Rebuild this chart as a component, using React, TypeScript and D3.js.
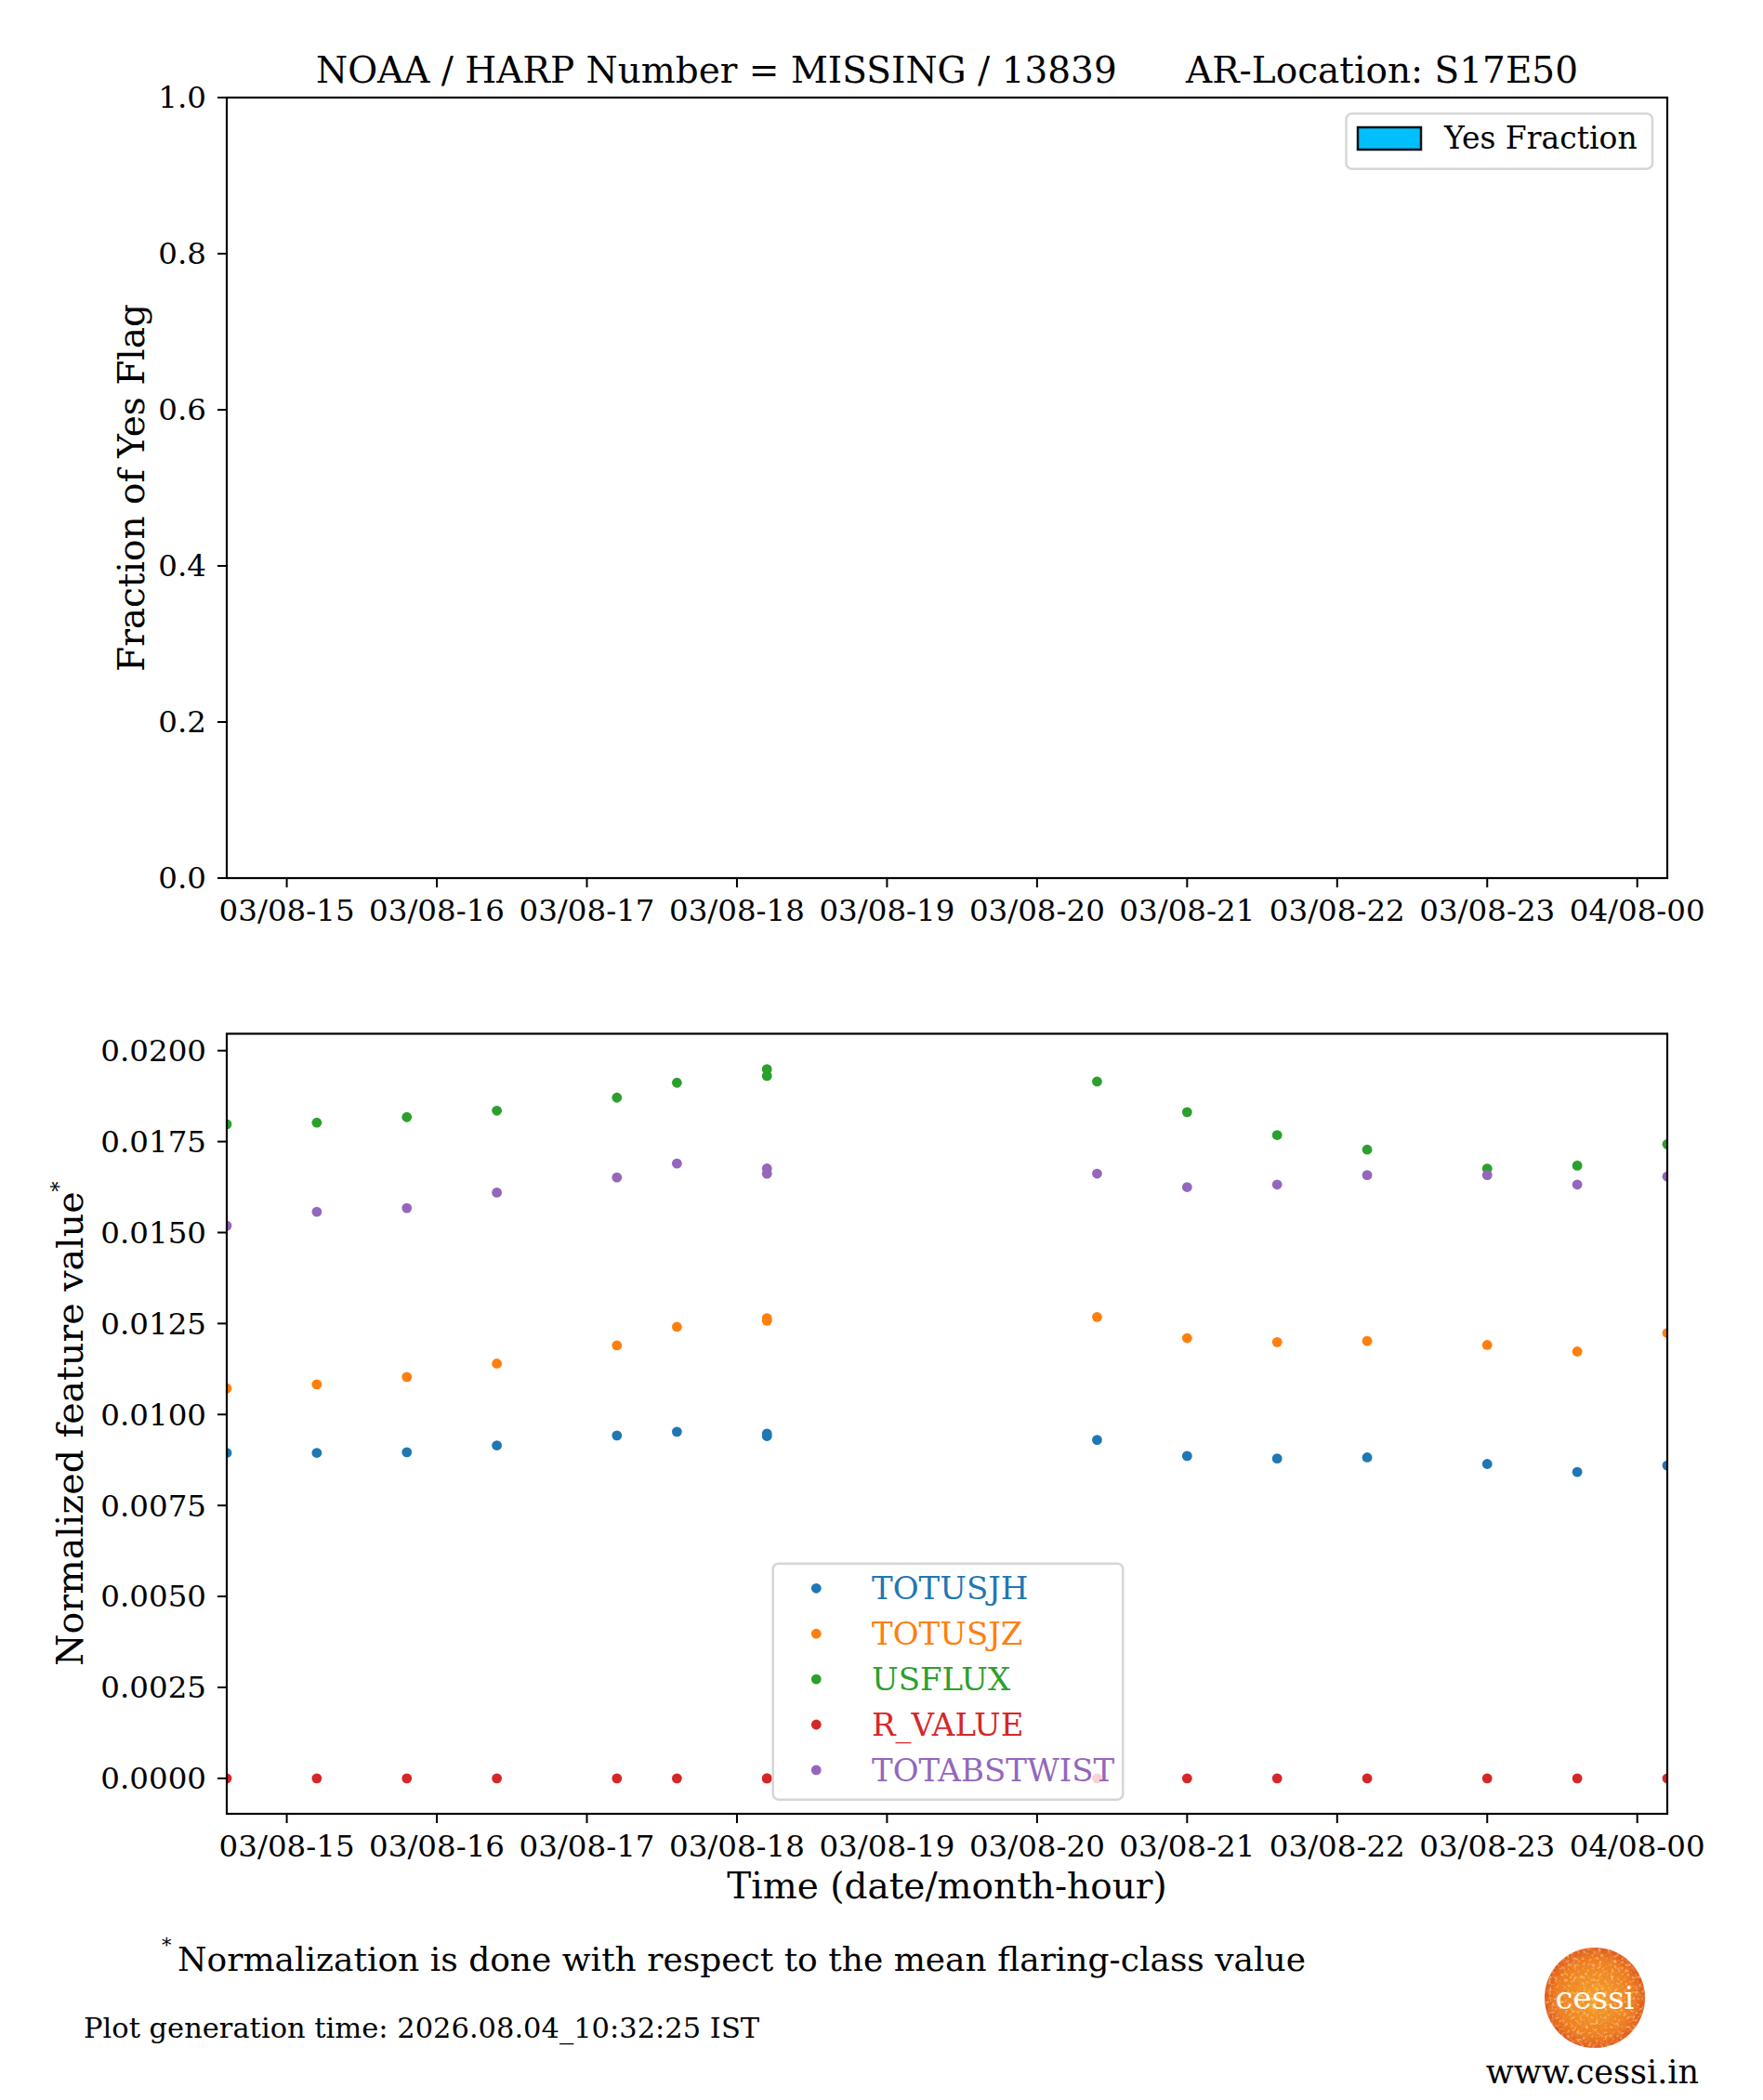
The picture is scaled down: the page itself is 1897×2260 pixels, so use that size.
import * as d3 from "d3";

const times = [
  "2024-08-03T14:36", "2024-08-03T15:12", "2024-08-03T15:48", "2024-08-03T16:24",
  "2024-08-03T17:12", "2024-08-03T17:36", "2024-08-03T18:12", "2024-08-03T18:12",
  "2024-08-03T20:24", "2024-08-03T21:00", "2024-08-03T21:36", "2024-08-03T22:12",
  "2024-08-03T23:00", "2024-08-03T23:36", "2024-08-04T00:12",
];

const seriesNames = ["TOTUSJH", "TOTUSJZ", "USFLUX", "R_VALUE", "TOTABSTWIST"];
const seriesColors = ["#1f77b4", "#ff7f0e", "#2ca02c", "#d62728", "#9467bd"];

const totusjh = [0.008946, 0.008946, 0.008963, 0.00915, 0.009423, 0.009526, 0.009474, 0.009406, 0.0093, 0.00886, 0.00879, 0.00882, 0.00864, 0.00842, 0.0086];
const totusjz = [0.010715, 0.010826, 0.01103, 0.0114, 0.011898, 0.012408, 0.012645, 0.012577, 0.01268, 0.0121, 0.01199, 0.01202, 0.01191, 0.01173, 0.01224];
const usflux = [0.017977, 0.01802, 0.018173, 0.01835, 0.018709, 0.019117, 0.01949, 0.019304, 0.01915, 0.01831, 0.01768, 0.01728, 0.01676, 0.01684, 0.01743];
const rValue = [0, 0, 0, 0, 0, 0, 0, 0, 0, 0, 0, 0, 0, 0, 0];
const totabstwist = [0.015189, 0.015571, 0.015673, 0.0161, 0.016515, 0.016898, 0.016761, 0.016617, 0.01662, 0.01625, 0.01632, 0.01658, 0.01658, 0.01632, 0.01654];

const seriesValues = [totusjh, totusjz, usflux, rValue, totabstwist];

const topTicks = [0, 0.2, 0.4, 0.6, 0.8, 1.0];
const bottomTicks = [0, 0.0025, 0.005, 0.0075, 0.01, 0.0125, 0.015, 0.0175, 0.02];

const titleText = "NOAA / HARP Number = MISSING / 13839      AR-Location: S17E50";
const footnote = "Normalization is done with respect to the mean flaring-class value";
const genTime = "Plot generation time: 2026.08.04_10:32:25 IST";

const W = 1897;
const H = 2260;
const FONT = "DejaVu Serif, serif";
const left = 244;
const right = 1794;
const topPanel = { top: 105, bottom: 945 };
const botPanel = { top: 1112.5, bottom: 1952 };

const parse = d3.utcParse("%Y-%m-%dT%H:%M");
const dates = times.map(t => parse(t) as Date);

const x = d3.scaleUtc()
  .domain(d3.extent(dates) as [Date, Date])
  .range([left, right]);

const yTop = d3.scaleLinear().domain([0, 1]).range([topPanel.bottom, topPanel.top]);

const allVals = seriesValues.flat();
const vMin = d3.min(allVals) as number;
const vMax = d3.max(allVals) as number;
const pad = (vMax - vMin) * 0.05;
const yBot = d3.scaleLinear()
  .domain([vMin - pad, vMax + pad])
  .range([botPanel.bottom, botPanel.top]);

const xTicks = x.ticks(d3.utcHour.every(1) as any);
const fmtX = d3.utcFormat("%d/%m-%H");

function XAxis({ y0 }: { y0: number }) {
  return (
    <g>
      {xTicks.map((t, i) => (
        <g key={i}>
          <line x1={x(t)} x2={x(t)} y1={y0} y2={y0 + 10} stroke="#000" strokeWidth={2} />
          <text x={x(t)} y={y0 + 46} textAnchor="middle" fontSize={32.5}>{fmtX(t)}</text>
        </g>
      ))}
    </g>
  );
}

function YAxis({ scale, ticks, fmt }: { scale: any; ticks: number[]; fmt: (v: number) => string }) {
  return (
    <g>
      {ticks.map((t, i) => (
        <g key={i}>
          <line x1={left - 10} x2={left} y1={scale(t)} y2={scale(t)} stroke="#000" strokeWidth={2} />
          <text x={left - 22} y={scale(t)} dy="0.35em" textAnchor="end" fontSize={32.5}>{fmt(t)}</text>
        </g>
      ))}
    </g>
  );
}

export default function App() {
  const legendRows = seriesNames.map((n, i) => ({ name: n, color: seriesColors[i] }));
  return (
    <div>
      <style>{`body{margin:0}`}</style>
      <svg width={W} height={H} fontFamily={FONT} style={{ display: "block", background: "#fff" }}>
        <defs>
          <clipPath id="clipBot">
            <rect x={left} y={botPanel.top} width={right - left} height={botPanel.bottom - botPanel.top} />
          </clipPath>
          <radialGradient id="sun" cx="50%" cy="50%" r="55%">
            <stop offset="0%" stopColor="#f7a92a" />
            <stop offset="70%" stopColor="#ee7d1c" />
            <stop offset="100%" stopColor="#d8481a" />
          </radialGradient>
          <filter id="sunTex">
            <feTurbulence type="fractalNoise" baseFrequency="0.22" numOctaves={3} seed={7} result="n" />
            <feColorMatrix in="n" type="matrix" values="0 0 0 0 0.85  0 0 0 0 0.22  0 0 0 0 0.05  0 0 0 1.8 -0.75" result="c" />
            <feComposite in="c" in2="SourceGraphic" operator="in" result="t" />
            <feTurbulence type="fractalNoise" baseFrequency="0.3" numOctaves={2} seed={2} result="n2" />
            <feColorMatrix in="n2" type="matrix" values="0 0 0 0 1  0 0 0 0 0.85  0 0 0 0 0.3  0 0 0 1.6 -0.85" result="c2" />
            <feComposite in="c2" in2="SourceGraphic" operator="in" result="t2" />
            <feMerge>
              <feMergeNode in="SourceGraphic" />
              <feMergeNode in="t" />
              <feMergeNode in="t2" />
            </feMerge>
          </filter>
        </defs>

        <rect x={0} y={0} width={W} height={H} fill="#fff" />

        {/* title */}
        <text x={(left + right) / 2} y={89} textAnchor="middle" fontSize={39} style={{ whiteSpace: "pre" }}>{titleText}</text>

        {/* top panel */}
        <rect x={left} y={topPanel.top} width={right - left} height={topPanel.bottom - topPanel.top} fill="none" stroke="#000" strokeWidth={2.2} />
        <YAxis scale={yTop} ticks={topTicks} fmt={d3.format(".1f")} />
        <XAxis y0={topPanel.bottom} />
        <text transform={`translate(155,${(topPanel.top + topPanel.bottom) / 2}) rotate(-90)`} textAnchor="middle" fontSize={39}>Fraction of Yes Flag</text>
        <g>
          <rect x={1448.5} y={122.3} width={329.5} height={59.4} rx={6} fill="#fff" fillOpacity={0.8} stroke="#d6d6d6" strokeWidth={2.5} />
          <rect x={1461} y={137} width={68} height={24} fill="#00bfff" stroke="#111" strokeWidth={2.5} />
          <text x={1554} y={160} fontSize={33}>Yes Fraction</text>
        </g>

        {/* bottom panel */}
        <g clipPath="url(#clipBot)">
          {seriesValues.map((vals, si) => (
            <g key={si} fill={seriesColors[si]}>
              {vals.map((v, i) => (
                <circle key={i} cx={x(dates[i])} cy={yBot(v)} r={5.4} />
              ))}
            </g>
          ))}
        </g>
        <rect x={left} y={botPanel.top} width={right - left} height={botPanel.bottom - botPanel.top} fill="none" stroke="#000" strokeWidth={2.2} />
        <YAxis scale={yBot} ticks={bottomTicks} fmt={d3.format(".4f")} />
        <XAxis y0={botPanel.bottom} />
        <text transform={`translate(89,${(botPanel.top + botPanel.bottom) / 2}) rotate(-90)`} textAnchor="middle" fontSize={39.5}>
          Normalized feature value<tspan fontSize={22} dy={-18}>*</tspan>
        </text>
        <text x={(left + right) / 2} y={2043} textAnchor="middle" fontSize={39}>Time (date/month-hour)</text>

        <g>
          <rect x={831.7} y={1682.7} width={376.6} height={254} rx={6} fill="#fff" fillOpacity={0.8} stroke="#d6d6d6" strokeWidth={2.5} />
          {legendRows.map((r, i) => (
            <g key={r.name}>
              <circle cx={878.3} cy={1709.3 + i * 48.9} r={5.4} fill={r.color} />
              <text x={938} y={1709.3 + i * 48.9} dy="0.35em" fontSize={34} fill={r.color}>{r.name}</text>
            </g>
          ))}
        </g>

        {/* footer */}
        <text x={174} y={2100} fontSize={21}>*</text>
        <text x={191} y={2121} fontSize={36}>{footnote}</text>
        <text x={90} y={2193} fontSize={30.5}>{genTime}</text>

        <circle cx={1716} cy={2150} r={54} fill="url(#sun)" filter="url(#sunTex)" />
        <text x={1716} y={2162} textAnchor="middle" fontSize={34} fill="#fff">cessi</text>
        <text x={1828} y={2242} textAnchor="end" fontSize={35}>www.cessi.in</text>
      </svg>
    </div>
  );
}
